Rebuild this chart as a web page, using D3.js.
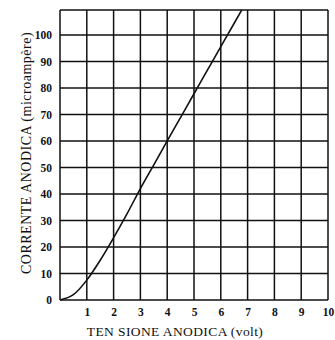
<!DOCTYPE html>
<html><head><meta charset="utf-8">
<script src="https://cdn.jsdelivr.net/npm/d3@7/dist/d3.min.js"></script>
<style>body{margin:0;background:#fff}</style>
</head><body>
<svg id="c" width="335" height="340"></svg>
<script>
const xTicks = [1,2,3,4,5,6,7,8,9,10];
const yTicks = [0,10,20,30,40,50,60,70,80,90,100];
const volts   = [0, 0.5, 1, 1.5, 2, 2.5, 3, 3.5, 4, 4.5, 5, 5.5, 6, 6.5, 6.78];
const current = [0, 2, 7.5, 15, 23.5, 32.5, 42, 51, 60, 68.9, 77.8, 86.7, 95.6, 104.4, 109.4];
const xTitle = "TEN SIONE ANODICA (volt)";
const yTitle = "CORRENTE ANODICA  (microampère)";

const svg = d3.select("#c");
const x = d3.scaleLinear().domain([0,10]).range([60,328]);
const y = d3.scaleLinear().domain([0,109.4]).range([300,10]);
const font = "'Liberation Serif', 'DejaVu Serif', serif";

const g = svg.append("g");
g.selectAll(".vx").data([0].concat(xTicks)).enter().append("line")
  .attr("x1", d=>x(d)).attr("x2", d=>x(d)).attr("y1", y(0)).attr("y2", y(109.4))
  .attr("stroke","#111").attr("stroke-width",1.5);
g.selectAll(".hy").data(yTicks.concat([109.4])).enter().append("line")
  .attr("x1", x(0)).attr("x2", x(10)).attr("y1", d=>y(d)).attr("y2", d=>y(d))
  .attr("stroke","#111").attr("stroke-width",1.5);

const xa = svg.append("g").attr("transform",`translate(0,${y(0)})`)
  .call(d3.axisBottom(x).tickValues(xTicks).tickSize(0).tickPadding(8));
xa.select(".domain").remove();
xa.selectAll("text").attr("font-family",font).attr("font-weight","bold").attr("font-size",11.5).attr("fill","#111");

const ya = svg.append("g").attr("transform",`translate(${x(0)},0)`)
  .call(d3.axisLeft(y).tickValues(yTicks).tickSize(0).tickPadding(8));
ya.select(".domain").remove();
ya.selectAll("text").attr("font-family",font).attr("font-weight","bold").attr("font-size",11.5).attr("fill","#111");

const pts = volts.map((v,i)=>[v,current[i]]);
svg.append("path").datum(pts)
  .attr("d", d3.line().x(d=>x(d[0])).y(d=>y(d[1])).curve(d3.curveMonotoneX))
  .attr("fill","none").attr("stroke","#111").attr("stroke-width",1.6);

svg.append("text").attr("x",175).attr("y",336).attr("text-anchor","middle")
  .attr("font-family",font).attr("font-size",13.5).attr("letter-spacing",0.4).attr("fill","#111").text(xTitle);
svg.append("text").attr("transform","translate(31,153) rotate(-90)").attr("text-anchor","middle")
  .attr("font-family",font).attr("font-size",14).attr("letter-spacing",0.5).attr("fill","#111").text(yTitle);
</script>
</body></html>
